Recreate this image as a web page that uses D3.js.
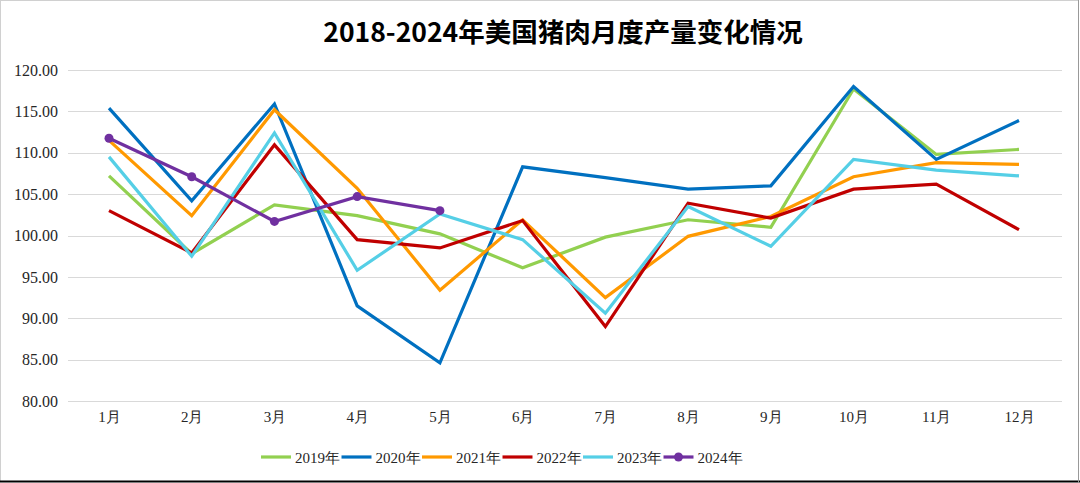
<!DOCTYPE html>
<html><head><meta charset="utf-8">
<script src="https://cdn.jsdelivr.net/npm/d3@7"></script>
<style>
html,body{margin:0;padding:0;background:#fff;}
svg{display:block;}
.ax{font-family:"Liberation Serif","DejaVu Serif",serif;}
</style></head>
<body>
<svg id="chart" width="1080" height="483"></svg>
<script>
const title = "2018-2024年美国猪肉月度产量变化情况";
const months = ["1月","2月","3月","4月","5月","6月","7月","8月","9月","10月","11月","12月"];
const yTicks = [80,85,90,95,100,105,110,115,120];
const seriesNames = ["2019年","2020年","2021年","2022年","2023年","2024年"];
const seriesColors = ["#92D050","#0070C0","#FF9900","#C00000","#55CFE6","#7030A0"];
const v2019 = [107.2, 97.8, 103.7, 102.4, 100.2, 96.1, 99.8, 101.9, 101.0, 117.7, 109.8, 110.4];
const v2020 = [115.4, 104.2, 115.9, 91.5, 84.6, 108.3, 107.0, 105.6, 106.0, 118.0, 109.2, 113.9];
const v2021 = [111.5, 102.4, 115.2, 105.7, 93.4, 101.9, 92.5, 99.9, 102.3, 107.1, 108.8, 108.6];
const v2022 = [103.0, 97.9, 110.95, 99.5, 98.5, 101.8, 89.0, 103.9, 102.1, 105.6, 106.2, 100.7];
const v2023 = [109.5, 97.5, 112.4, 95.8, 102.6, 99.5, 90.6, 103.5, 98.7, 109.2, 107.9, 107.2];
const v2024 = [111.75, 107.1, 101.7, 104.7, 103.0];
const seriesValues = [v2019, v2020, v2021, v2022, v2023, v2024];

const svg = d3.select("#chart");
const W = 1080, H = 483;

// frame
svg.append("rect").attr("x",0.5).attr("y",0.5).attr("width",W-2).attr("height",H-2)
  .attr("fill","#fff").attr("stroke","#d0d0d0").attr("stroke-width",1);
svg.append("line").attr("x1",0).attr("x2",W).attr("y1",481.5).attr("y2",481.5)
  .attr("stroke","#000").attr("stroke-width",2);
svg.append("line").attr("x1",1078.5).attr("x2",1078.5).attr("y1",0).attr("y2",H)
  .attr("stroke","#999").attr("stroke-width",1);

const x = d3.scalePoint().domain(months).range([109, 1019]);
const y = d3.scaleLinear().domain([80,120]).range([401, 70]);

// gridlines
svg.append("g").selectAll("line").data(yTicks).join("line")
  .attr("x1",68).attr("x2",1062)
  .attr("y1",d=>Math.round(y(d))+0.5).attr("y2",d=>Math.round(y(d))+0.5)
  .attr("stroke","#d9d9d9").attr("stroke-width",1);

// y axis
const yAxis = d3.axisLeft(y).tickValues(yTicks).tickFormat(d3.format(".2f")).tickSize(0).tickPadding(0);
const gy = svg.append("g").attr("transform","translate(58,0)").call(yAxis);
gy.select(".domain").remove();
gy.attr("font-family",null).attr("font-size",null);
gy.selectAll("text").attr("class","ax").style("font-size","16px").attr("fill","#262626");

// x axis
const xAxis = d3.axisBottom(x).tickSize(0).tickPadding(0);
const gx = svg.append("g").attr("transform","translate(0,411)").call(xAxis);
gx.select(".domain").remove();
gx.attr("font-family",null).attr("font-size",null);
gx.selectAll("text").attr("class","ax").style("font-size","15px").attr("fill","#262626");

// title
svg.append("text").attr("x",563).attr("y",42).attr("text-anchor","middle")
  .style("font-family","'Noto Sans CJK SC',sans-serif").attr("font-weight","bold")
  .style("font-size","26.5px").attr("fill","#000").text(title);

// lines
const line = d3.line().x((d,i)=>x(months[i])).y(d=>y(d));
seriesValues.forEach((vals,k)=>{
  svg.append("path").datum(vals).attr("d",line)
    .attr("fill","none").attr("stroke",seriesColors[k]).attr("stroke-width",3.2)
    .attr("stroke-linejoin","miter").attr("stroke-linecap","butt");
  if (k===5) {
    svg.append("g").selectAll("circle").data(vals).join("circle")
      .attr("cx",(d,i)=>x(months[i])).attr("cy",d=>y(d)).attr("r",4.5)
      .attr("fill",seriesColors[k]);
  }
});

// legend
const lg = svg.append("g");
seriesNames.forEach((name,k)=>{
  const x0 = 261 + k*80.5;
  const g = lg.append("g").attr("transform",`translate(${x0},457)`);
  g.append("line").attr("x1",0).attr("x2",30).attr("y1",0).attr("y2",0)
    .attr("stroke",seriesColors[k]).attr("stroke-width",3.2);
  if (k===5) g.append("circle").attr("cx",15).attr("cy",0).attr("r",4.5).attr("fill",seriesColors[k]);
  g.append("text").attr("class","ax").attr("x",34).attr("y",5.5)
    .style("font-size","15px").attr("fill","#262626").text(name);
});
</script>
</body></html>
